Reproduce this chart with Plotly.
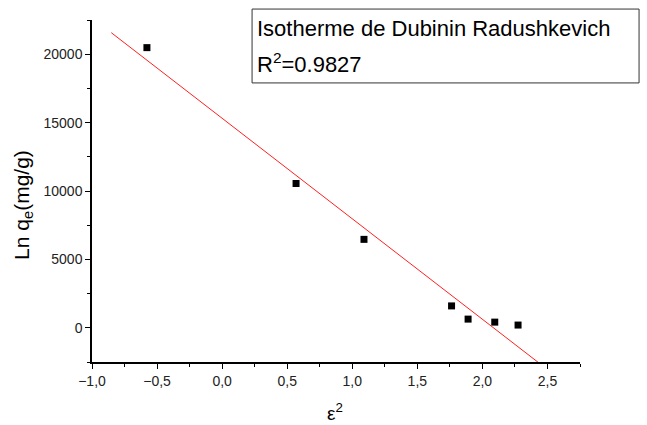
import numpy as np
import plotly.graph_objects as go

# Dubinin-Radushkevich data: epsilon^2 vs Ln qe
eps2 = [-0.578, 0.568, 1.09, 1.763, 1.89, 2.095, 2.274]
ln_qe = [20480, 10550, 6465, 1600, 635, 415, 200]

# linear fit
slope, intercept = np.polyfit(eps2, ln_qe, 1)
fit_x = np.array([-0.852, 2.6])
fit_y = slope * fit_x + intercept

fig = go.Figure()
fig.add_trace(go.Scatter(x=fit_x, y=fit_y, mode="lines",
                         line=dict(color="#ff2020", width=1), showlegend=False))
fig.add_trace(go.Scatter(x=eps2, y=ln_qe, mode="markers",
                         marker=dict(symbol="square", size=7, color="black"),
                         showlegend=False))

font_family = "Arial"

fig.update_layout(
    width=647, height=425,
    margin=dict(l=92, r=67, t=20, b=63),
    paper_bgcolor="white", plot_bgcolor="white",
    separators=",.",
    font=dict(family=font_family, color="black", size=14),
    shapes=[dict(type="rect", xref="paper", yref="paper",
                 x0=0.328, x1=1.121, y0=0.816, y1=1.032,
                 line=dict(color="#333", width=1), fillcolor="white")],
    annotations=[
        dict(text="Isotherme de Dubinin Radushkevich", xref="paper", yref="paper",
             x=0.333, y=0.975, xanchor="left", yanchor="middle", showarrow=False,
             font=dict(size=22, color="black")),
        dict(text="R<sup>2</sup>=0.9827", xref="paper", yref="paper",
             x=0.333, y=0.875, xanchor="left", yanchor="middle", showarrow=False,
             font=dict(size=22, color="black")),
        # axis titles
        dict(text="ε<sup>2</sup>", xref="paper", yref="paper",
             x=0.498, y=-0.145, xanchor="center", yanchor="middle", showarrow=False,
             font=dict(size=19, color="black")),
        dict(text="Ln q<sub>e</sub>(mg/g)", xref="paper", yref="paper",
             x=-0.143, y=0.46, xanchor="center", yanchor="middle", showarrow=False,
             textangle=-90, font=dict(size=21, color="black")),
    ],
)

axis_style = dict(showline=True, linecolor="black", linewidth=1.5, ticks="outside",
                  ticklen=5, tickwidth=1.2, tickcolor="black", showgrid=False,
                  zeroline=False, mirror=False)
fig.update_xaxes(range=[-1.0, 2.75], tickmode="linear", tick0=0, dtick=0.5,
                 tickformat=".1f",
                 minor=dict(dtick=0.25, tick0=0, ticks="outside", ticklen=3,
                            tickcolor="black", tickwidth=1.2),
                 tickfont=dict(size=14, color="#222"),
                 **axis_style)
fig.update_yaxes(range=[-2500, 22500], tickmode="linear", tick0=0, dtick=5000,
                 tickformat="d",
                 minor=dict(dtick=2500, tick0=0, ticks="outside", ticklen=3,
                            tickcolor="black", tickwidth=1.2),
                 tickfont=dict(size=14, color="#222"),
                 **axis_style)

fig.write_html("out.html")
